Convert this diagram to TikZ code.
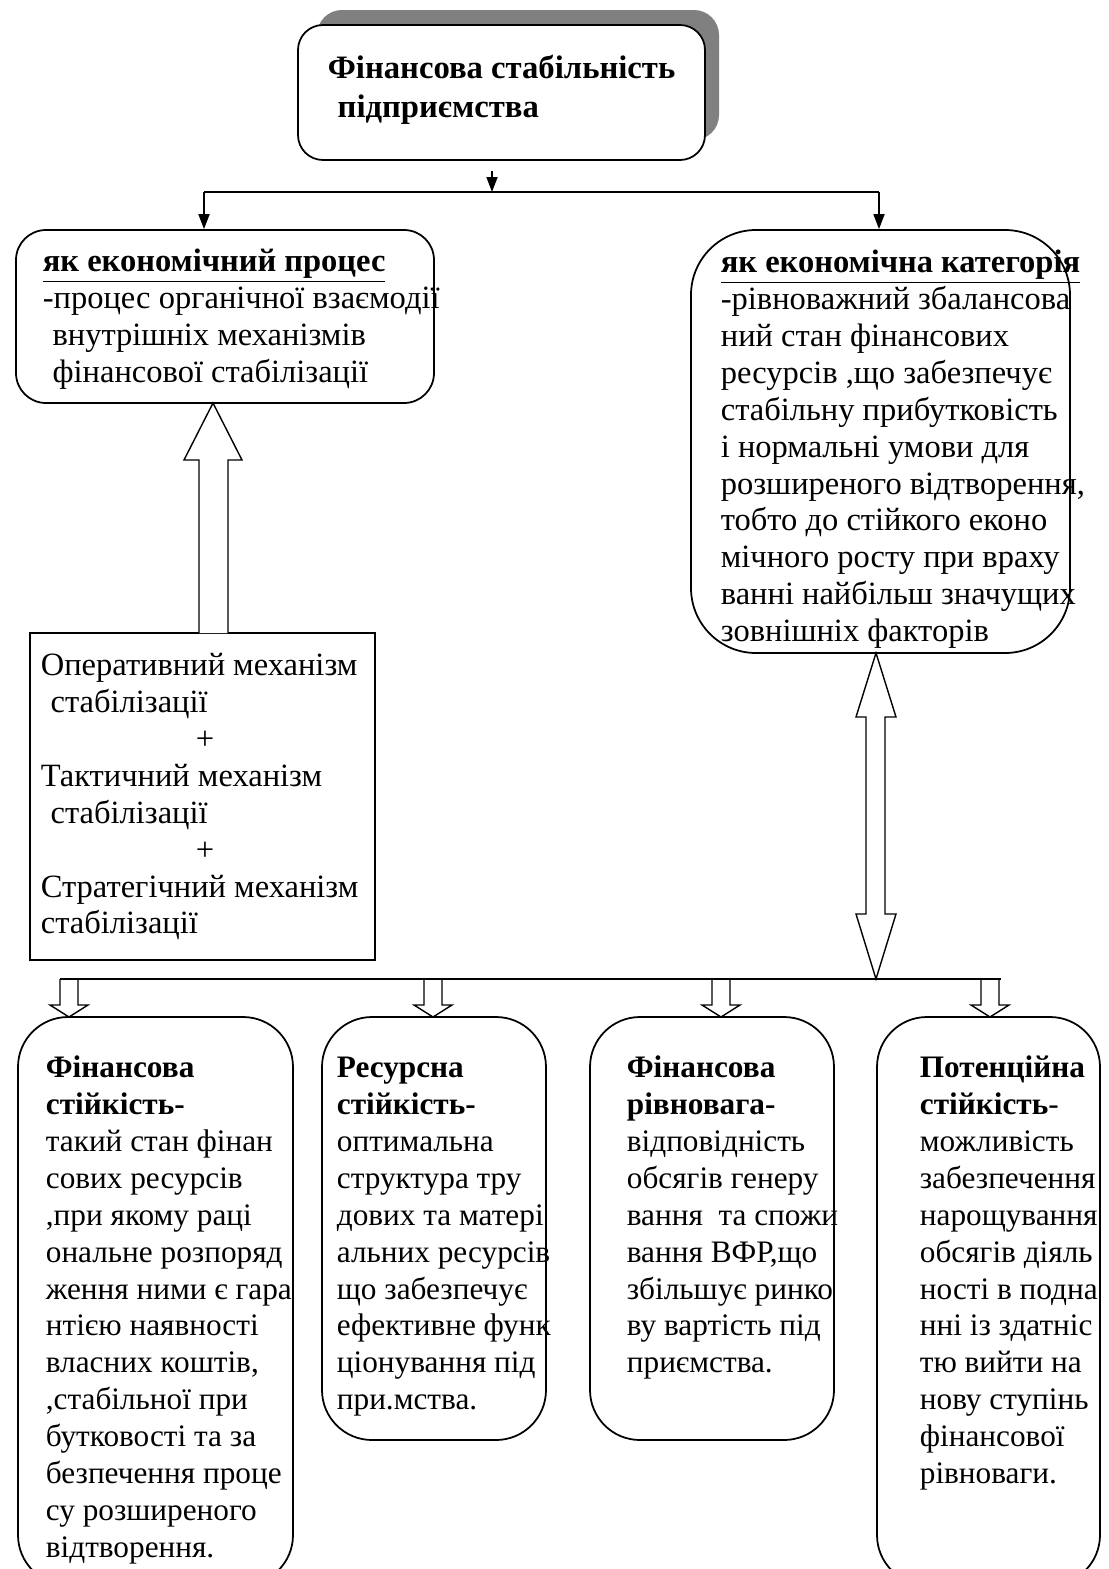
\documentclass[tikz,border=0pt]{standalone}
\usepackage{fontspec}
\setmainfont{Liberation Serif}
\usetikzlibrary{arrows.meta, calc, fit}

\begin{document}
\begin{tikzpicture}[x=0.02cm, y=-0.02cm, line width=1pt,
  box/.style={draw, fill=white, inner sep=0pt},
  txt/.style={anchor=north west, align=left, inner sep=0pt, font=\fontsize{18.5}{21}\selectfont},
  lowtxt/.style={txt, font=\fontsize{17.8}{21}\selectfont},
  hollow/.style={draw, fill=white, line width=0.8pt},
  tip/.style={-{Triangle[length=0.3cm, width=0.22cm]}}]
  \useasboundingbox (0,0) rectangle (1109,1569);
  \clip (0,0) rectangle (1109,1569);

  % Title with shadow
  \fill[gray, rounded corners=0.5cm] (317,10) rectangle (719,140);
  \node[box, rounded corners=0.5cm, fit={(298,25) (705,160)}] (titl) {};
  \node[txt, font=\fontsize{18.6}{22}\selectfont\bfseries] (tittxt) at (327,51)
    {\strut Фінансова стабільність\\ \hspace*{0.3em}підприємства};

  % Fork to the two views
  \coordinate (fork) at (492,192);
  \coordinate (forkL) at (204,192);
  \coordinate (forkR) at (879,192);
  \node[box, rounded corners=0.6cm, fit={(16,230) (434,403)}] (proc) {};
  \node[box, rounded corners=1.3cm, fit={(691,230) (1070,653)}] (cat) {};
  \draw[tip, shorten <=0.2cm] (titl.south -| fork) -- (fork);
  \draw (forkL) -- (forkR);
  \draw[tip] (forkL) -- (forkL |- proc.north);
  \draw[tip] (forkR) -- (forkR |- cat.north);

  \node[txt] (proctxt) at (42,245)
    {\strut\underline{\textbf{як економічний процес}}\\ -процес органічної взаємодії\\
     \hspace*{0.3em}внутрішніх механізмів\\ \hspace*{0.3em}фінансової стабілізації};
  \node[txt] (cattxt) at (720,246)
    {\strut\underline{\textbf{як економічна категорія}}\\ -рівноважний збалансова\\
     ний стан фінансових\\ ресурсів ,що забезпечує\\ стабільну прибутковість\\
     і нормальні умови для\\ розширеного відтворення,\\ тобто до стійкого еконо\\
     мічного росту при враху\\ ванні найбільш значущих\\ зовнішніх факторів};

  % Mechanisms
  \node[box, fit={(30,633) (375,960)}] (mech) {};
  \node[txt] (mechtxt) at (40,649)
    {\strut Оперативний механізм\\ \hspace*{0.3em}стабілізації\\ \hspace*{3.1cm}+\\
     Тактичний механізм\\ \hspace*{0.3em}стабілізації\\ \hspace*{3.1cm}+\\
     Стратегічний механізм\\ стабілізації};
  \draw[hollow] (199,633) -- (199,460) -- (184,460) -- (213,403)
    -- (242,460) -- (228,460) -- (228,633);
  \draw[hollow] (876,653) -- (896,717) -- (885,717) -- (885,914) -- (896,914)
    -- (876,979) -- (856,914) -- (866,914) -- (866,717) -- (856,717) -- cycle;

  % Four kinds of stability
  \node[box, rounded corners=1cm, fit={(18,1017) (293,1585)}] (finst) {};
  \node[box, rounded corners=1cm, fit={(322,1017) (546,1440)}] (resst) {};
  \node[box, rounded corners=1cm, fit={(590,1017) (834,1440)}] (finrv) {};
  \node[box, rounded corners=1cm, fit={(877,1017) (1100,1585)}] (potst) {};
  \foreach \x in {69,433,721,990} {
    \draw[hollow] (\x-9,979) -- (\x-9,1005) -- (\x-19,1005) -- (\x,1017)
      -- (\x+19,1005) -- (\x+9,1005) -- (\x+9,979);
  }
  \coordinate (barL) at (60,979);
  \coordinate (barR) at (1001,979);
  \draw (barL) -- (barR);

  \node[lowtxt] (finsttxt) at (45,1051)
    {\strut\textbf{Фінансова}\\ \textbf{стійкість-}\\ такий стан фінан\\ сових ресурсів\\
     ,при якому раці\\ ональне розпоряд\\ ження ними є гара\\ нтією наявності\\
     власних коштів,\\ ,стабільної при\\ бутковості та за\\ безпечення проце\\
     су розширеного\\ відтворення.};
  \node[lowtxt] (ressttxt) at (336,1051)
    {\strut\textbf{Ресурсна}\\ \textbf{стійкість-}\\ оптимальна\\ структура тру\\
     дових та матері\\ альних ресурсів\\ що забезпечує\\ ефективне функ\\
     ціонування під\\ при.мства.};
  \node[lowtxt] (finrvtxt) at (626,1051)
    {\strut\textbf{Фінансова}\\ \textbf{рівновага-}\\ відповідність\\ обсягів генеру\\
     вання\ \ та спожи\\ вання ВФР,що\\ збільшує ринко\\ ву вартість під\\
     приємства.};
  \node[lowtxt] (potsttxt) at (919,1051)
    {\strut\textbf{Потенційна}\\ \textbf{стійкість}-\\ можливість\\ забезпечення\\
     нарощування\\ обсягів діяль\\ ності в подна\\ нні із здатніс\\ тю вийти на\\
     нову ступінь\\ фінансової\\ рівноваги.};
\end{tikzpicture}
\end{document}
